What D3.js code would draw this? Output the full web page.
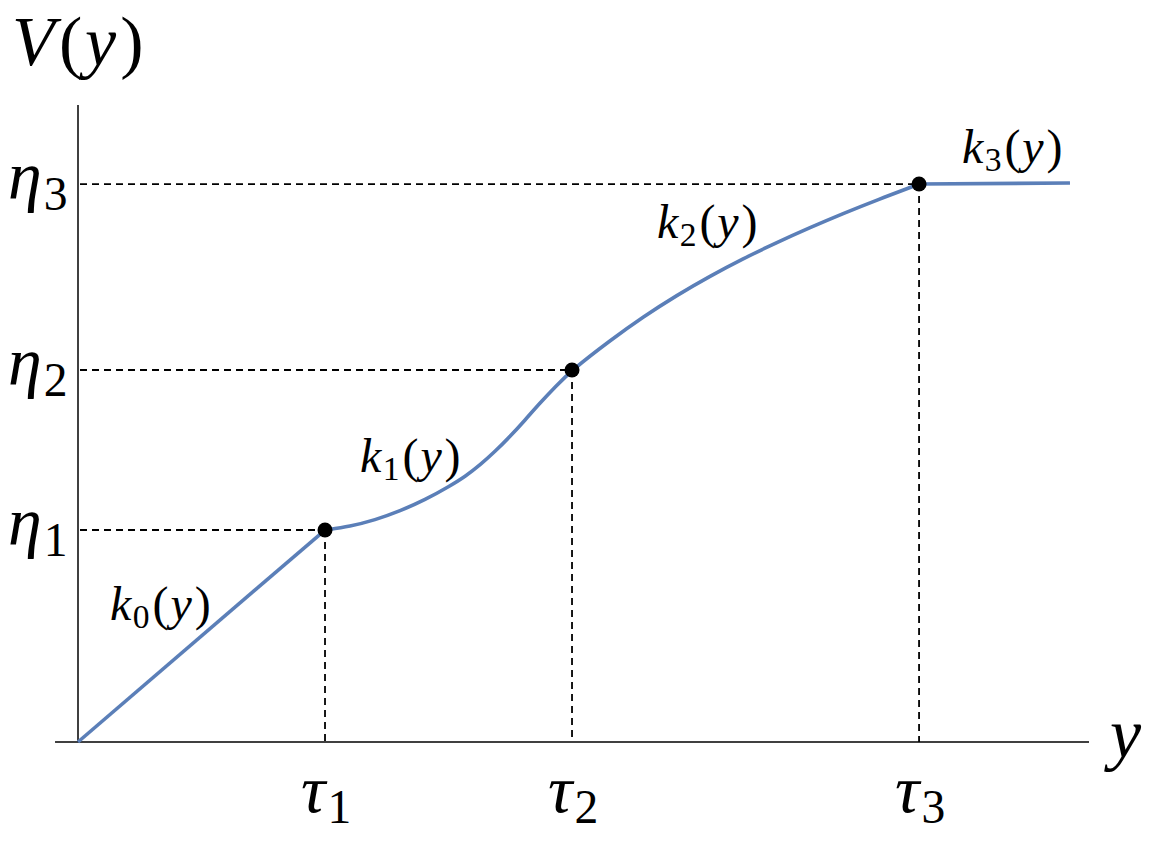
<!DOCTYPE html>
<html>
<head>
<meta charset="utf-8">
<script src="https://cdn.jsdelivr.net/npm/d3@7"></script>
<style>
  body { margin: 0; background: #fff; }
</style>
</head>
<body>
<div id="chart"></div>
<script>
// breakpoints on the y axis (tau) and the levels V reaches there (eta)
const tau = [1, 2, 3.405];
const eta = [1, 1.755, 2.632];
const tauLabels = ["1", "2", "3"];
const etaLabels = ["1", "2", "3"];

// pieces of V(y)
const k0 = [[0, 0], [1, 1]];
const k1 = [[1, 1], [1.101, 1.017], [1.202, 1.047], [1.304, 1.090], [1.405, 1.142],
            [1.506, 1.208], [1.567, 1.252], [1.628, 1.307], [1.688, 1.370], [1.749, 1.441],
            [1.810, 1.519], [1.870, 1.599], [1.935, 1.679], [2, 1.755]];
const k2 = [[2, 1.755], [2.154, 1.894], [2.287, 2.005], [2.425, 2.108], [2.559, 2.198],
            [2.692, 2.280], [2.830, 2.357], [2.964, 2.427], [3.097, 2.493], [3.235, 2.557],
            [3.405, 2.632]];
const k3 = [[3.405, 2.632], [4.016, 2.637]];

const kNames = ["0", "1", "2", "3"];
const kAnchors = [[0.13, 0.575], [1.142, 1.274], [2.344, 2.377], [3.579, 2.731]];

function main() {
    const width = 1152, height = 842;
    const blue = "#5b7fb8";
    const serif = "'Liberation Serif', 'Times New Roman', serif";

    const svg = d3.select("#chart").append("svg")
        .attr("width", width)
        .attr("height", height);

    svg.append("rect").attr("width", width).attr("height", height).attr("fill", "#fff");

    const x = d3.scaleLinear().domain([0, 4.093]).range([78, 1089]);
    const y = d3.scaleLinear().domain([0, 3.005]).range([742, 105]);

    // axes
    svg.append("line")
        .attr("x1", x(-0.093)).attr("x2", x(4.093))
        .attr("y1", y(0)).attr("y2", y(0))
        .attr("stroke", "#000").attr("stroke-width", 1.5);
    svg.append("line")
        .attr("x1", x(0)).attr("x2", x(0))
        .attr("y1", y(0)).attr("y2", y(3.005))
        .attr("stroke", "#000").attr("stroke-width", 1.5);

    // guide lines
    const guides = svg.append("g")
        .attr("stroke", "#000")
        .attr("stroke-width", 1.8)
        .attr("stroke-dasharray", "7,5");
    tau.forEach((t, i) => {
        guides.append("line")
            .attr("x1", x(0) + 2).attr("x2", x(t))
            .attr("y1", y(eta[i])).attr("y2", y(eta[i]));
        guides.append("line")
            .attr("x1", x(t)).attr("x2", x(t))
            .attr("y1", y(eta[i])).attr("y2", y(0));
    });

    // the curve
    const straight = d3.line().x(d => x(d[0])).y(d => y(d[1]));
    const smooth = d3.line().x(d => x(d[0])).y(d => y(d[1])).curve(d3.curveBasis);

    const curves = svg.append("g")
        .attr("fill", "none")
        .attr("stroke", blue)
        .attr("stroke-width", 3.6)
        .attr("stroke-linecap", "butt");
    curves.append("path").attr("d", straight(k0));
    curves.append("path").attr("d", smooth(k1.concat(k2.slice(1))));
    curves.append("path").attr("d", straight(k3));

    svg.append("g").selectAll("circle")
        .data(tau)
        .join("circle")
        .attr("cx", d => x(d))
        .attr("cy", (d, i) => y(eta[i]))
        .attr("r", 7.5)
        .attr("fill", "#000");

    // math-like labels: italic symbol + upright subscript
    function mathLabel(g, px, py, sym, sub, size, tail) {
        const t = g.append("text")
            .attr("x", px).attr("y", py)
            .attr("font-family", serif)
            .attr("font-size", size)
            .attr("fill", "#000");
        t.append("tspan").attr("font-style", "italic").text(sym);
        if (sub !== null) {
            t.append("tspan")
                .attr("font-size", size * 0.7)
                .attr("dx", size * 0.03)
                .attr("dy", size * 0.16)
                .text(sub);
        }
        if (tail) {
            t.append("tspan")
                .attr("dx", size * 0.06)
                .attr("dy", sub !== null ? -size * 0.16 : 0)
                .text("(");
            t.append("tspan").attr("dx", size * 0.04).attr("font-style", "italic").text("y");
            t.append("tspan").attr("dx", size * 0.06).text(")");
        }
        return t;
    }

    const labels = svg.append("g");

    mathLabel(labels, 12, 65, "V", null, 70, true);
    mathLabel(labels, 1110, 757, "y", null, 70, false);

    tau.forEach((t, i) => {
        mathLabel(labels, x(t) - 24, 812, "τ", tauLabels[i], 68, false);
    });
    eta.forEach((e, i) => {
        mathLabel(labels, 8, y(e) + 15, "η", etaLabels[i], 68, false);
    });
    kAnchors.forEach((a, i) => {
        mathLabel(labels, x(a[0]), y(a[1]), "k", kNames[i], 48, true);
    });
}
main();
</script>
</body>
</html>
